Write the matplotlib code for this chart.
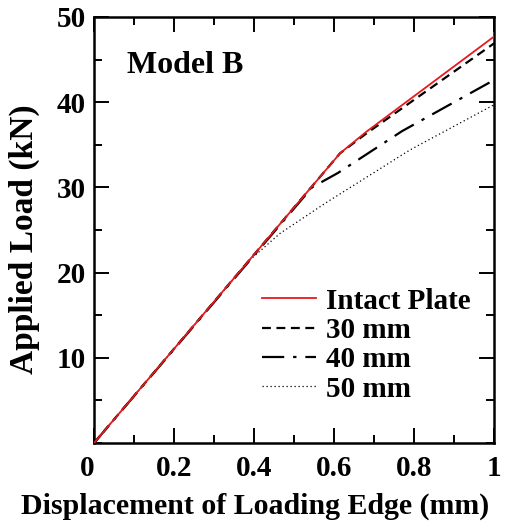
import matplotlib
matplotlib.use('Agg')
import matplotlib.pyplot as plt
from matplotlib.ticker import FixedLocator, MultipleLocator

plt.rcParams['font.family'] = 'Liberation Serif'
plt.rcParams['font.weight'] = 'bold'

# Data (displacement in mm, load in kN)
disp_intact = [0, 0.615, 0.68, 1.0]
load_intact = [0, 34.0, 36.5, 47.7]
disp_30 = [0, 0.615, 0.68, 1.0]
load_30 = [0, 34.0, 36.3, 46.9]
disp_40 = [0, 0.545, 0.61, 0.77, 1.0]
load_40 = [0, 30.0, 31.7, 36.6, 42.6]
disp_50 = [0, 0.39, 0.465, 0.58, 0.79, 1.0]
load_50 = [0, 21.5, 24.6, 28.2, 34.4, 39.7]

x_ticks = [0, 0.2, 0.4, 0.6, 0.8, 1.0]
x_ticklabels = ['0', '0.2', '0.4', '0.6', '0.8', '1']
y_ticks = [10, 20, 30, 40, 50]

fig = plt.figure(figsize=(5.11, 5.28), dpi=100)
ax = fig.add_axes([0.184, 0.161, 0.783, 0.807])

ax.plot(disp_intact, load_intact, '-', color='#e8191c', linewidth=1.3, label='Intact Plate', zorder=4)
ax.plot(disp_30, load_30, color='black', linestyle=(0, (4, 2.5)), linewidth=1.6, label='30 mm', zorder=3)
ax.plot(disp_40, load_40, color='black', linestyle=(0, (10, 4, 1.5, 4)), linewidth=1.6, label='40 mm', zorder=3)
ax.plot(disp_50, load_50, color='black', linestyle=(0, (1, 2.2)), linewidth=0.9, label='50 mm', zorder=3)

ax.set_xlim(0, 1)
ax.set_ylim(0, 50)
ax.xaxis.set_major_locator(FixedLocator(x_ticks))
ax.xaxis.set_minor_locator(MultipleLocator(0.1))
ax.yaxis.set_major_locator(FixedLocator(y_ticks))
ax.yaxis.set_minor_locator(MultipleLocator(5))
ax.set_xticklabels(x_ticklabels)
ax.get_xticklabels()[0].set_ha('right')

ax.tick_params(which='both', direction='in', top=True, right=True, width=1.4, labelsize=21)
ax.tick_params(which='major', length=11)
ax.tick_params(which='minor', length=6)
ax.tick_params(axis='x', which='major', pad=9)
ax.tick_params(axis='y', which='major', pad=6)
for s in ax.spines.values():
    s.set_linewidth(1.8)

ax.set_xlabel('Displacement of Loading Edge (mm)', fontsize=21.5, fontweight='bold')
ax.set_ylabel('Applied Load (kN)', fontsize=24, fontweight='bold')
ax.xaxis.set_label_coords(0.4025, -0.117)
ax.yaxis.set_label_coords(-0.135, 0.479)

ax.text(0.083, 43.4, 'Model B', fontsize=23, fontweight='bold', ha='left', va='baseline')

ax.legend(loc='lower left', bbox_to_anchor=(0.42, 0.095), frameon=False, fontsize=21,
          handlelength=1.85, handletextpad=0.35, labelspacing=0.08, borderpad=0, borderaxespad=0)

fig.savefig('out.png', dpi=100)
